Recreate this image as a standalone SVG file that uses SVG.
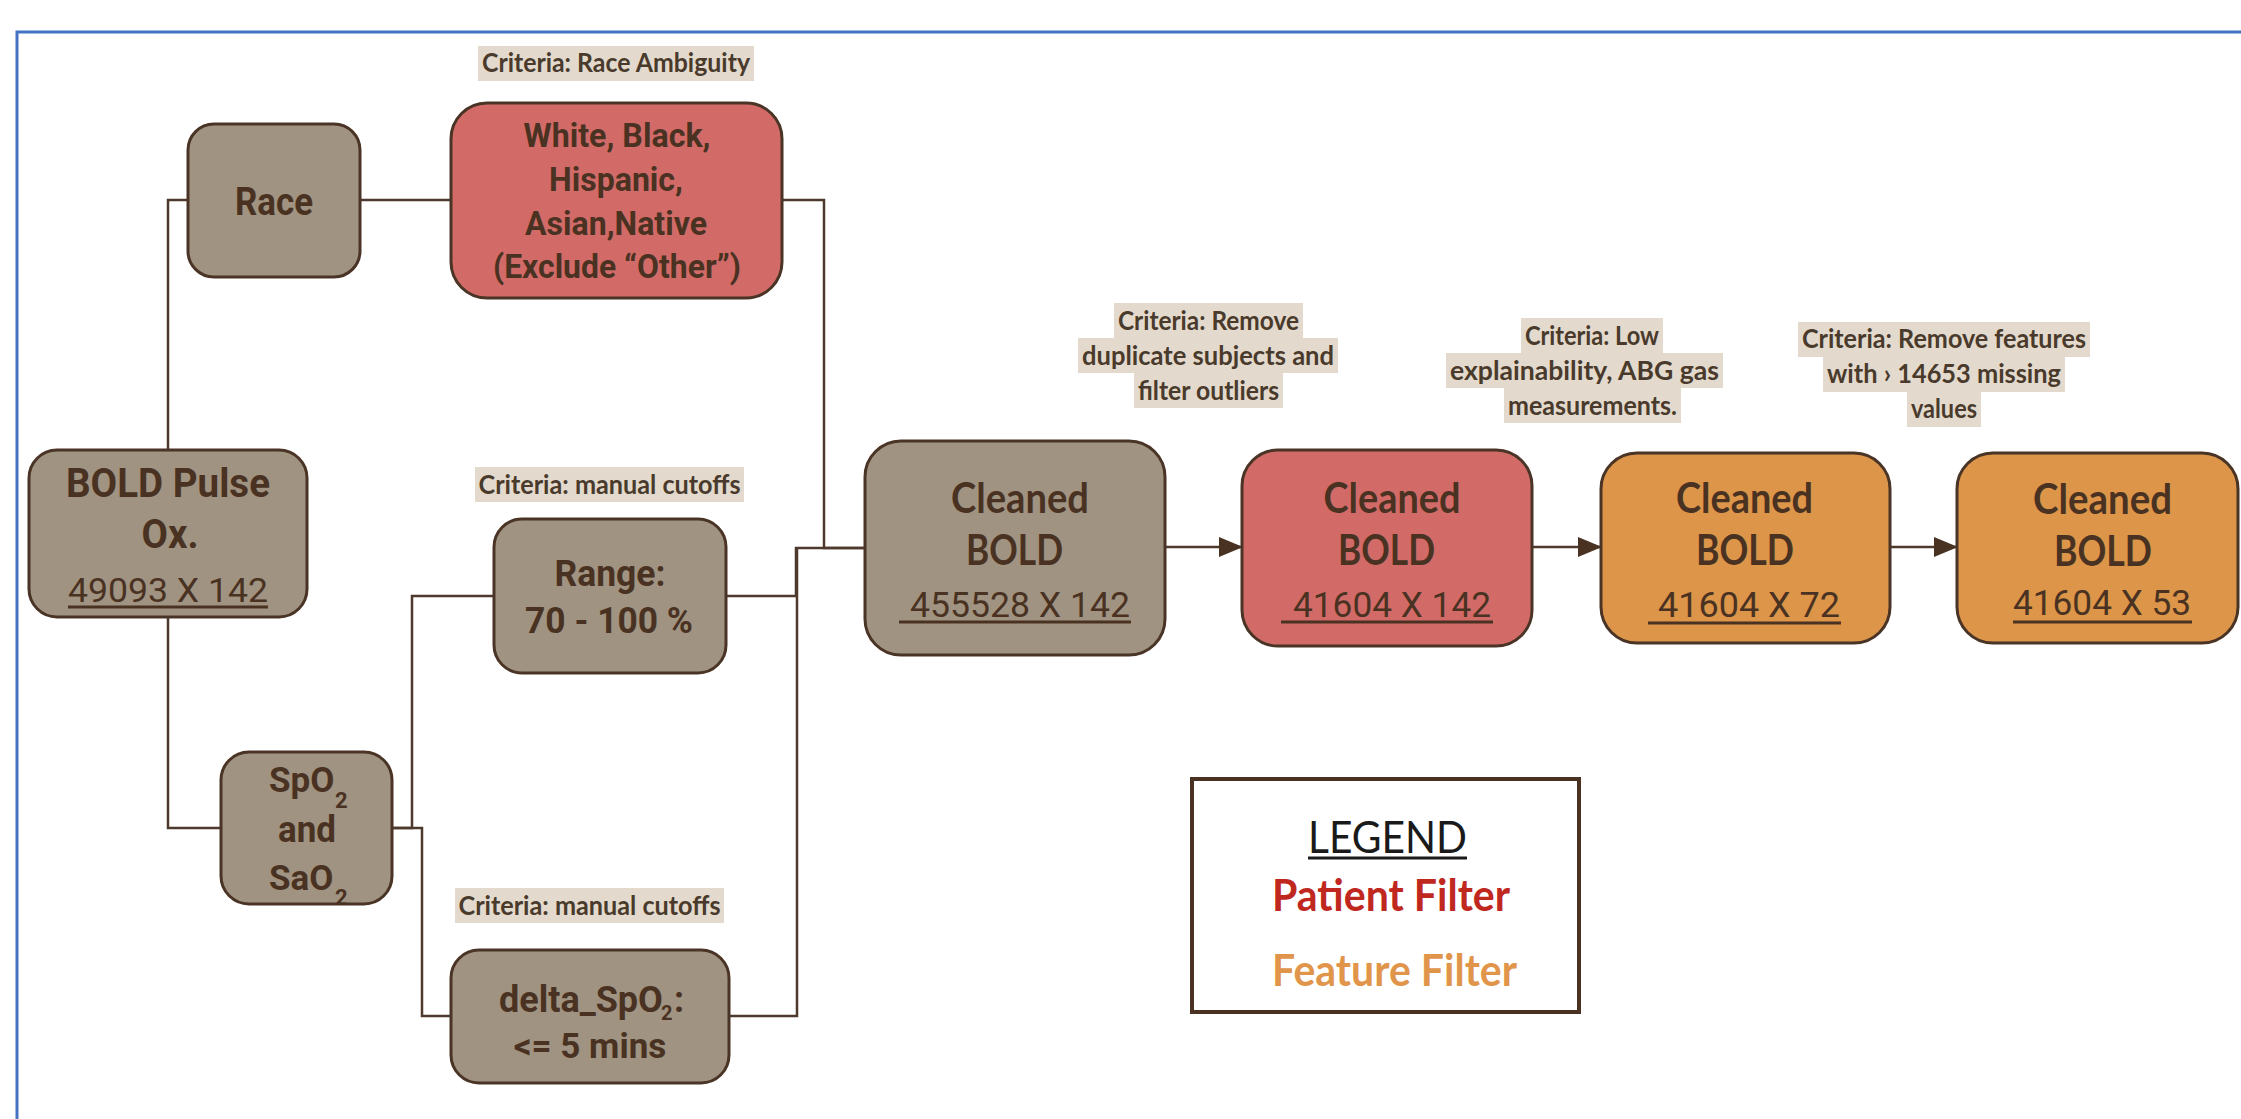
<svg xmlns="http://www.w3.org/2000/svg" width="2241" height="1119" viewBox="0 0 2241 1119">
<style>
.gray{fill:#a09381;stroke:#4a3426;stroke-width:3}
.red{fill:#d26b68;stroke:#4a3426;stroke-width:3}
.orange{fill:#dc9549;stroke:#4a3426;stroke-width:3}
.cn{font-family:Roboto,"Liberation Sans",sans-serif;font-weight:700;fill:#4a3222;text-anchor:middle}
.cns{font-family:Roboto,"Liberation Sans",sans-serif;font-weight:700;fill:#4a3222}
.cnr{font-family:Roboto,"Liberation Sans",sans-serif;font-weight:400;fill:#4a3222;text-anchor:middle}
.cb{font-family:Lato,"Open Sans",sans-serif;font-weight:700;fill:#4a3222;text-anchor:middle;font-size:42px}
.num{font-family:Roboto,"Liberation Sans",sans-serif;font-weight:400;fill:#4a3222;font-size:35px}
.crit{font-family:Lato,"Open Sans",sans-serif;font-weight:700;fill:#4a3a2c;font-size:27px;text-anchor:middle}
.critbg{fill:#e3dacd}
.ul{stroke:#4a3222;stroke-width:3}
.conn{fill:none;stroke:#4e3a2c;stroke-width:2.5}
</style>
<defs>
<marker id="ah" markerWidth="24" markerHeight="20" refX="23" refY="10" orient="auto" markerUnits="userSpaceOnUse">
<path d="M0,0 L24,10 L0,20 Z" fill="#4a3222"/>
</marker>
</defs>
<rect x="0" y="0" width="2241" height="1119" fill="#ffffff"/>
<rect x="17" y="32" width="2300" height="1200" fill="none" stroke="#4472c4" stroke-width="3"/>

<g id="connectors">
<path class="conn" d="M168,450 V200 H188"/>
<path class="conn" d="M360,200 H451"/>
<path class="conn" d="M782,200 H824 V548 H865"/>
<path class="conn" d="M168,617 V828 H221"/>
<path class="conn" d="M392,828 H412 V596 H494"/>
<path class="conn" d="M392,828 H422 V1016 H451"/>
<path class="conn" d="M725,596 H796 V548 H865"/>
<path class="conn" d="M729,1016 H797 V548"/>
<path class="conn" d="M1165,547 H1242" marker-end="url(#ah)"/>
<path class="conn" d="M1532,547 H1601" marker-end="url(#ah)"/>
<path class="conn" d="M1890,547 H1957" marker-end="url(#ah)"/>
</g>

<g id="criteria-race">
<rect class="critbg" x="478" y="46" width="276" height="35"/>
<text class="crit" x="616" y="72" textLength="268" lengthAdjust="spacingAndGlyphs">Criteria: Race Ambiguity</text>
</g>
<g id="criteria-range">
<rect class="critbg" x="475" y="467" width="269" height="35"/>
<text class="crit" x="609.5" y="494" textLength="262" lengthAdjust="spacingAndGlyphs">Criteria: manual cutoffs</text>
</g>
<g id="criteria-delta">
<rect class="critbg" x="455" y="888" width="269" height="35"/>
<text class="crit" x="589.5" y="915" textLength="262" lengthAdjust="spacingAndGlyphs">Criteria: manual cutoffs</text>
</g>
<g id="criteria-dup">
<rect class="critbg" x="1114" y="303" width="189" height="35"/>
<rect class="critbg" x="1078" y="338" width="260" height="35"/>
<rect class="critbg" x="1134" y="373" width="149" height="35"/>
<text class="crit" x="1208.5" y="330" textLength="181" lengthAdjust="spacingAndGlyphs">Criteria: Remove</text>
<text class="crit" x="1208" y="365" textLength="252" lengthAdjust="spacingAndGlyphs">duplicate subjects and</text>
<text class="crit" x="1208.5" y="400" textLength="141" lengthAdjust="spacingAndGlyphs">filter outliers</text>
</g>
<g id="criteria-low">
<rect class="critbg" x="1521" y="318" width="142" height="35"/>
<rect class="critbg" x="1446" y="353" width="277" height="35"/>
<rect class="critbg" x="1504" y="388" width="177" height="35"/>
<text class="crit" x="1592" y="345" textLength="134" lengthAdjust="spacingAndGlyphs">Criteria: Low</text>
<text class="crit" x="1584.5" y="380" textLength="269" lengthAdjust="spacingAndGlyphs">explainability, ABG gas</text>
<text class="crit" x="1592.5" y="415" textLength="169" lengthAdjust="spacingAndGlyphs">measurements.</text>
</g>
<g id="criteria-missing">
<rect class="critbg" x="1798" y="322" width="292" height="35"/>
<rect class="critbg" x="1823" y="357" width="242" height="35"/>
<rect class="critbg" x="1907" y="392" width="74" height="35"/>
<text class="crit" x="1944" y="348" textLength="284" lengthAdjust="spacingAndGlyphs">Criteria: Remove features</text>
<text class="crit" x="1944" y="383" textLength="234" lengthAdjust="spacingAndGlyphs">with › 14653  missing</text>
<text class="crit" x="1944" y="418" textLength="66" lengthAdjust="spacingAndGlyphs">values</text>
</g>

<g id="node-bold-pulse">
<rect class="gray" x="29" y="450" width="278" height="167" rx="28"/>
<text class="cn" x="168" y="497" font-size="40" textLength="204" lengthAdjust="spacingAndGlyphs">BOLD Pulse</text>
<text class="cn" x="170" y="548" font-size="40" textLength="57" lengthAdjust="spacingAndGlyphs">Ox.</text>
<text class="cnr" x="168" y="602" font-size="34" textLength="200" lengthAdjust="spacingAndGlyphs">49093 X 142</text>
<line class="ul" x1="68" y1="607" x2="268" y2="607"/>
</g>

<g id="node-race">
<rect class="gray" x="188" y="124" width="172" height="153" rx="26"/>
<text class="cn" x="274" y="215" font-size="38" textLength="78" lengthAdjust="spacingAndGlyphs">Race</text>
</g>

<g id="node-race-groups">
<rect class="red" x="451" y="103" width="331" height="195" rx="36"/>
<text class="cn" x="617" y="147" font-size="34" textLength="187" lengthAdjust="spacingAndGlyphs">White, Black,</text>
<text class="cn" x="616" y="191" font-size="34" textLength="134" lengthAdjust="spacingAndGlyphs">Hispanic,</text>
<text class="cn" x="616" y="235" font-size="34" textLength="182" lengthAdjust="spacingAndGlyphs">Asian,Native</text>
<text class="cn" x="617" y="278" font-size="34" textLength="248" lengthAdjust="spacingAndGlyphs">(Exclude “Other”)</text>
</g>

<g id="node-range">
<rect class="gray" x="494" y="519" width="232" height="154" rx="28"/>
<text class="cn" x="610" y="586" font-size="37" textLength="111" lengthAdjust="spacingAndGlyphs">Range:</text>
<text class="cn" x="609" y="633" font-size="37" textLength="168" lengthAdjust="spacingAndGlyphs">70 - 100 %</text>
</g>

<g id="node-spo2">
<rect class="gray" x="221" y="752" width="171" height="152" rx="28"/>
<text class="cns" x="269" y="792" font-size="35">SpO<tspan x="335" y="808" font-size="22">2</tspan></text>
<text class="cn" x="307" y="842" font-size="36" textLength="58" lengthAdjust="spacingAndGlyphs">and</text>
<text class="cns" x="269" y="890" font-size="35">SaO<tspan x="335" y="905" font-size="22">2</tspan></text>
</g>

<g id="node-delta">
<rect class="gray" x="451" y="950" width="278" height="133" rx="28"/>
<text class="cns" x="499" y="1012" font-size="36">delta_SpO<tspan x="661" y="1020" font-size="20">2</tspan><tspan x="674" y="1012">:</tspan></text>
<text class="cn" x="590" y="1058" font-size="35">&lt;= 5 mins</text>
</g>

<g id="node-cleaned-1">
<rect class="gray" x="865" y="441" width="300" height="214" rx="36"/>
<text class="cb" x="1020" y="513" textLength="138" lengthAdjust="spacingAndGlyphs">Cleaned</text>
<text class="cb" x="1014.5" y="565" textLength="97" lengthAdjust="spacingAndGlyphs">BOLD</text>
<text class="num" x="910" y="617" textLength="220" lengthAdjust="spacingAndGlyphs">455528 X 142</text>
<line class="ul" x1="899" y1="622" x2="1131" y2="622"/>
</g>

<g id="node-cleaned-2">
<rect class="red" x="1242" y="450" width="290" height="196" rx="36"/>
<text class="cb" x="1392" y="513" textLength="137" lengthAdjust="spacingAndGlyphs">Cleaned</text>
<text class="cb" x="1386.5" y="565" textLength="97" lengthAdjust="spacingAndGlyphs">BOLD</text>
<text class="num" x="1293" y="617" textLength="198" lengthAdjust="spacingAndGlyphs">41604 X 142</text>
<line class="ul" x1="1281" y1="622" x2="1493" y2="622"/>
</g>

<g id="node-cleaned-3">
<rect class="orange" x="1601" y="453" width="289" height="190" rx="36"/>
<text class="cb" x="1744.5" y="513" textLength="137" lengthAdjust="spacingAndGlyphs">Cleaned</text>
<text class="cb" x="1745" y="565" textLength="98" lengthAdjust="spacingAndGlyphs">BOLD</text>
<text class="num" x="1658" y="617" textLength="182" lengthAdjust="spacingAndGlyphs">41604 X 72</text>
<line class="ul" x1="1648" y1="623" x2="1841" y2="623"/>
</g>

<g id="node-cleaned-4">
<rect class="orange" x="1957" y="453" width="281" height="190" rx="36"/>
<text class="cb" x="2102.5" y="514" textLength="139" lengthAdjust="spacingAndGlyphs">Cleaned</text>
<text class="cb" x="2103" y="566" textLength="98" lengthAdjust="spacingAndGlyphs">BOLD</text>
<text class="num" x="2013" y="615" textLength="178" lengthAdjust="spacingAndGlyphs">41604 X 53</text>
<line class="ul" x1="2013" y1="622" x2="2192" y2="622"/>
</g>

<g id="legend">
<rect x="1192" y="779" width="387" height="233" fill="#ffffff" stroke="#4a3222" stroke-width="4"/>
<text x="1387.5" y="853" font-family="Lato,'Open Sans',sans-serif" font-size="45" fill="#1a1a1a" text-anchor="middle" textLength="159" lengthAdjust="spacingAndGlyphs">LEGEND</text>
<line x1="1308" y1="858" x2="1467" y2="858" stroke="#1a1a1a" stroke-width="3"/>
<text x="1272" y="911" font-family="Lato,'Open Sans',sans-serif" font-weight="700" font-size="43" fill="#c0281f" textLength="238" lengthAdjust="spacingAndGlyphs">Patient Filter</text>
<text x="1272" y="986" font-family="Lato,'Open Sans',sans-serif" font-weight="700" font-size="43" fill="#e0954b" textLength="245" lengthAdjust="spacingAndGlyphs">Feature Filter</text>
</g>
</svg>
